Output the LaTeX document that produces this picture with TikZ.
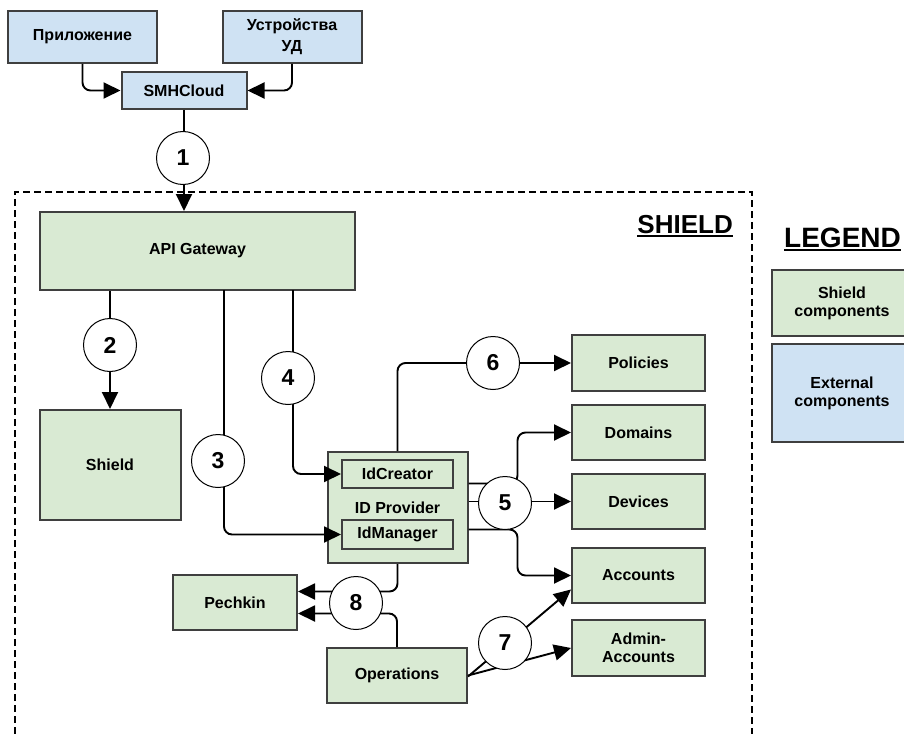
\documentclass[tikz,border=0pt]{standalone}
\usepackage{fontspec}
\setmainfont{Liberation Sans}
\usetikzlibrary{arrows.meta}
\definecolor{gfill}{HTML}{D9EAD3}
\definecolor{bfill}{HTML}{CFE2F3}
\definecolor{bstroke}{HTML}{3F3F3F}
\begin{document}
\begin{tikzpicture}[x=1pt,y=-1pt,
 box/.style={draw=bstroke, line width=2pt, fill=gfill, font=\bfseries\fontsize{16}{18}\selectfont, align=center, inner sep=0pt},
 ext/.style={box, fill=bfill},
 num/.style={circle, draw=black, line width=1pt, fill=white, minimum size=53pt, inner sep=0pt, font=\bfseries\fontsize{23}{23}\selectfont},
 tip/.tip={Triangle[length=17pt,width=16pt]},
 arr/.style={line width=1.9pt, rounded corners=8pt, -tip},
]
\useasboundingbox (0,0) rectangle (904,733);
\clip (0,0) rectangle (904,733);

% dashed SHIELD frame
\draw[line width=1.6pt, dash pattern=on 7pt off 4pt] (15,745) -- (15,192) -- (752,192) -- (752,745);

% external
\node[ext, minimum width=149pt, minimum height=52pt] (app) at (82.5,37) {Приложение};
\node[ext, minimum width=139pt, minimum height=52pt] (dev) at (292,37) {Устройства\\[3pt]УД};
\node[ext, minimum width=125pt, minimum height=37pt] (smh) at (184,90.5) {SMHCloud};

% shield components
\node[box, minimum width=315pt, minimum height=78pt] (api) at (197.5,251) {API Gateway};
\node[box, minimum width=141pt, minimum height=110pt] (shield) at (110,465) {Shield};
\node[box, minimum width=140pt, minimum height=111pt] (idp) at (397.5,507.5) {ID Provider};
\node[box, minimum width=111pt, minimum height=28pt] (idc) at (397.5,474) {IdCreator};
\node[box, minimum width=111pt, minimum height=29pt] (idm) at (397.5,534.5) {IdManager};
\node[box, minimum width=133pt, minimum height=56pt] (pol) at (638.5,363) {Policies};
\node[box, minimum width=133pt, minimum height=55pt] (dom) at (638.5,432.5) {Domains};
\node[box, minimum width=133pt, minimum height=55pt] (devs) at (638.5,501.5) {Devices};
\node[box, minimum width=133pt, minimum height=55pt] (acc) at (638.5,575.5) {Accounts};
\node[box, minimum width=133pt, minimum height=56pt] (adm) at (638.5,648) {Admin-\\Accounts};
\node[box, minimum width=124pt, minimum height=55pt] (pech) at (235,602.5) {Pechkin};
\node[box, minimum width=140pt, minimum height=55pt] (ops) at (397,675.5) {Operations};

% legend
\node[box, minimum width=140pt, minimum height=66pt] (lg1) at (842,303) {Shield\\components};
\node[ext, minimum width=140pt, minimum height=98pt] (lg2) at (842,393) {External\\components};

% titles
\node[font=\bfseries\fontsize{26}{26}\selectfont, anchor=base east, inner sep=0pt] (shl) at (733,233) {SHIELD};
\draw[line width=2pt] ([yshift=-3pt]shl.base west) -- ([yshift=-3pt]shl.base east);
\node[font=\bfseries\fontsize{28}{28}\selectfont, anchor=base west, inner sep=0pt] (lgt) at (784,247) {LEGEND};
\draw[line width=2pt] ([yshift=-3pt]lgt.base west) -- ([yshift=-3pt]lgt.base east);

% connectors
\draw[arr] (app.south) |- (smh.west);
\draw[arr] (dev.south) |- (smh.east);
\draw[arr] (smh.south) -- (smh.south |- api.north);
\draw[arr] (api.south -| shield.north) -- (shield.north);
\coordinate (p3) at (224,290);
\coordinate (p4) at (293,290);
\draw[arr] (p3) |- (idm.west);
\draw[arr] (p4) |- (idc.west);
\draw[arr] (idp.north) |- (pol.west);
\draw[arr] ([yshift=24pt]idp.east) -- ++(49,0) |- (dom.west);
\draw[arr] (idp.east |- devs.west) -- (devs.west);
\draw[arr] ([yshift=-22pt]idp.east) -- ++(49,0) |- (acc.west);
\draw[arr] (idp.south) |- ([yshift=11pt]pech.east);
\draw[arr] (ops.north) |- ([yshift=-11pt]pech.east);
\draw[arr] ([yshift=-1pt]ops.east) -- ([yshift=-14pt]acc.west);
\draw[arr] (ops.east) -- (adm.west);

% number circles
\node[num] (c1) at (183,158) {1};
\node[num] (c2) at (110,345) {2};
\node[num] (c3) at (218,461) {3};
\node[num] (c4) at (288,378) {4};
\node[num] (c5) at (505,503) {5};
\node[num] (c6) at (493,363) {6};
\node[num] (c7) at (505,643) {7};
\node[num] (c8) at (356,603) {8};
\end{tikzpicture}
\end{document}
